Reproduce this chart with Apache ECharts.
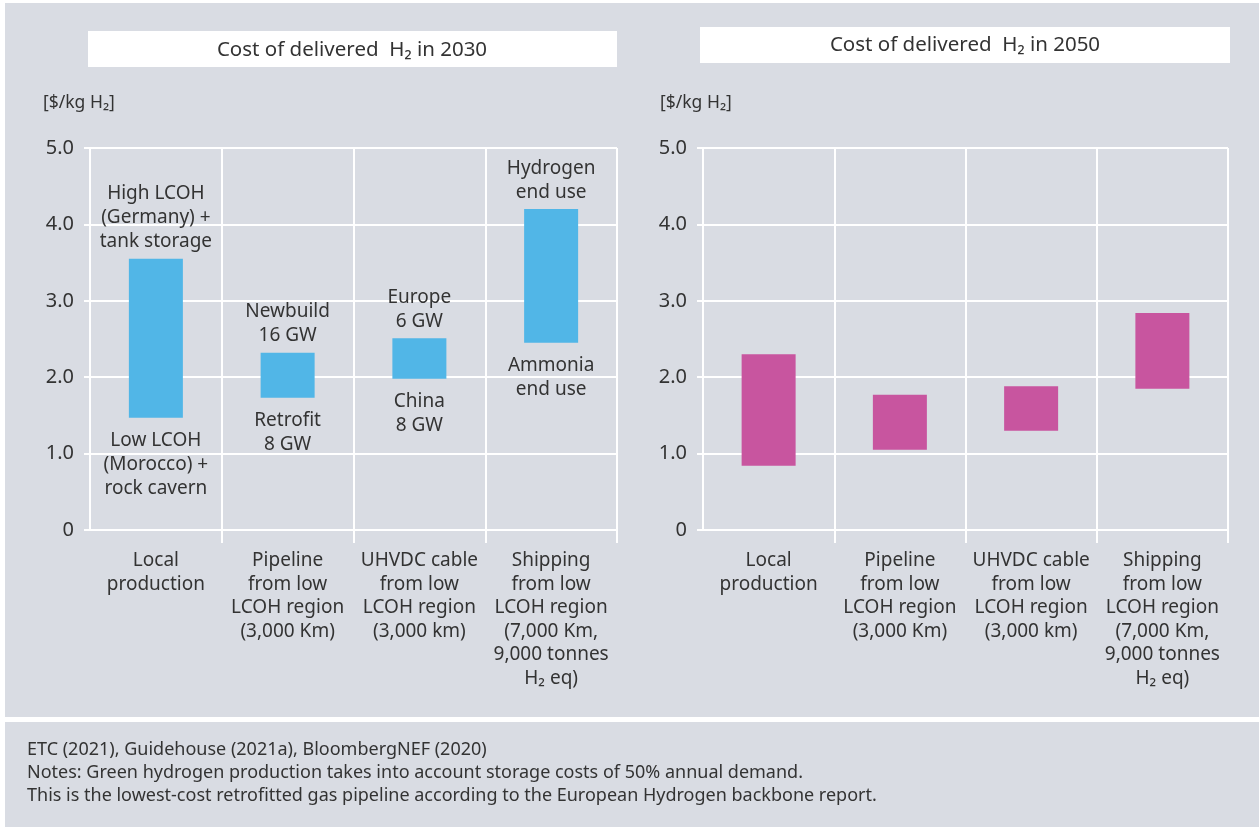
<!DOCTYPE html>
<html>
<head>
<meta charset="utf-8">
<script src="https://cdn.jsdelivr.net/npm/echarts@6/dist/echarts.min.js"></script>
<style>
    html, body { margin: 0; padding: 0; background: #d9dce3; }
    #main { width: 1259px; height: 827px; }
</style>
</head>
<body>
<div id="main"></div>
<script>
// data
var categories = [
    'Local\nproduction',
    'Pipeline\nfrom low\nLCOH region\n(3,000 Km)',
    'UHVDC cable\nfrom low\nLCOH region\n(3,000 km)',
    'Shipping\nfrom low\nLCOH region\n(7,000 Km,\n9,000 tonnes\nH₂ eq)'
];
var low2030 = [1.47, 1.73, 1.98, 2.45];
var high2030 = [3.55, 2.32, 2.51, 4.20];
var low2050 = [0.84, 1.05, 1.30, 1.85];
var high2050 = [2.30, 1.77, 1.88, 2.84];
var topNotes2030 = ['High LCOH\n(Germany) +\ntank storage', 'Newbuild\n16 GW', 'Europe\n6 GW', 'Hydrogen\nend use'];
var bottomNotes2030 = ['Low LCOH\n(Morocco) +\nrock cavern', 'Retrofit\n8 GW', 'China\n8 GW', 'Ammonia\nend use'];
var panelTitles = ['Cost of delivered  H₂ in 2030', 'Cost of delivered  H₂ in 2050'];
var unitLabel = '[$/kg H₂]';
var footerLines = [
    'ETC (2021), Guidehouse (2021a), BloombergNEF (2020)',
    'Notes: Green hydrogen production takes into account storage costs of 50% annual demand.',
    'This is the lowest-cost retrofitted gas pipeline according to the European Hydrogen backbone report.'
];

var FONT = '"Noto Sans", sans-serif';
var TXT = '#333333';
var BLUE = '#51b6e7';
var PINK = '#c8559f';

var chart = echarts.init(document.getElementById('main'), null, { renderer: 'canvas' });

function diff(hi, lo) {
    return hi.map(function (v, i) { return +(v - lo[i]).toFixed(2); });
}

function xAxisFor(gridIndex) {
    return {
        type: 'category',
        gridIndex: gridIndex,
        data: categories,
        boundaryGap: true,
        axisLine: { show: false },
        axisTick: {
            show: true, length: 13,
            interval: function (i) { return i > 0; },
            lineStyle: { color: '#ffffff', width: 2 }
        },
        splitLine: { show: true, lineStyle: { color: '#ffffff', width: 2 } },
        axisLabel: {
            interval: 0, margin: 19, color: TXT,
            fontFamily: FONT, fontSize: 19, lineHeight: 23.5
        }
    };
}

function yAxisFor(gridIndex) {
    return {
        type: 'value',
        gridIndex: gridIndex,
        min: 0, max: 5, interval: 1,
        axisLine: { show: false },
        axisTick: { show: true, length: 6, lineStyle: { color: '#ffffff', width: 2 } },
        splitLine: { show: true, lineStyle: { color: '#ffffff', width: 2 } },
        axisLabel: {
            margin: 16, color: TXT, fontFamily: FONT, fontSize: 20,
            formatter: function (v) { return v === 0 ? '0' : v.toFixed(1); }
        }
    };
}

var labelBase = { color: TXT, fontFamily: FONT, fontSize: 19, lineHeight: 24 };

function textEl(x, y, text, size, align) {
    return {
        type: 'text', x: x, y: y,
        style: {
            text: text, fill: TXT, font: size + 'px ' + FONT,
            textAlign: align || 'left', textVerticalAlign: 'middle'
        }
    };
}

var option = {
    backgroundColor: '#d9dce3',
    animation: false,
    grid: [
        { left: 90, right: 642, top: 148, bottom: 297, outerBoundsMode: 'none' },
        { left: 703, right: 31, top: 148, bottom: 297, outerBoundsMode: 'none' }
    ],
    xAxis: [xAxisFor(0), xAxisFor(1)],
    yAxis: [yAxisFor(0), yAxisFor(1)],
    series: [
        {
            type: 'bar', xAxisIndex: 0, yAxisIndex: 0, stack: 'a', barWidth: 54,
            data: low2030,
            itemStyle: { color: 'rgba(0,0,0,0)' },
            label: Object.assign({
                show: true, position: 'insideTop', distance: 11,
                formatter: function (p) { return bottomNotes2030[p.dataIndex]; }
            }, labelBase)
        },
        {
            type: 'bar', xAxisIndex: 0, yAxisIndex: 0, stack: 'a', barWidth: 54,
            data: diff(high2030, low2030),
            itemStyle: { color: BLUE },
            label: Object.assign({
                show: true, position: 'top', distance: 5,
                formatter: function (p) { return topNotes2030[p.dataIndex]; }
            }, labelBase)
        },
        {
            type: 'bar', xAxisIndex: 1, yAxisIndex: 1, stack: 'b', barWidth: 54,
            data: low2050,
            itemStyle: { color: 'rgba(0,0,0,0)' }
        },
        {
            type: 'bar', xAxisIndex: 1, yAxisIndex: 1, stack: 'b', barWidth: 54,
            data: diff(high2050, low2050),
            itemStyle: { color: PINK }
        }
    ],
    graphic: [
        // white edges and separator
        { type: 'rect', shape: { x: 0, y: 0, width: 1259, height: 3 }, style: { fill: '#ffffff' } },
        { type: 'rect', shape: { x: 0, y: 0, width: 5, height: 827 }, style: { fill: '#ffffff' } },
        { type: 'rect', shape: { x: 0, y: 717, width: 1259, height: 5 }, style: { fill: '#ffffff' } },
        // panel title boxes
        { type: 'rect', shape: { x: 88, y: 31, width: 529, height: 36 }, style: { fill: '#ffffff' } },
        { type: 'rect', shape: { x: 700, y: 27, width: 530, height: 36 }, style: { fill: '#ffffff' } },
        textEl(352, 50, panelTitles[0], 20.5, 'center'),
        textEl(965, 45, panelTitles[1], 20.5, 'center'),
        textEl(43, 103, unitLabel, 17.5),
        textEl(660, 103, unitLabel, 17.5),
        textEl(27, 750, footerLines[0], 18),
        textEl(27, 773, footerLines[1], 18),
        textEl(27, 796, footerLines[2], 18)
    ]
};

chart.setOption(option);
</script>
</body>
</html>
